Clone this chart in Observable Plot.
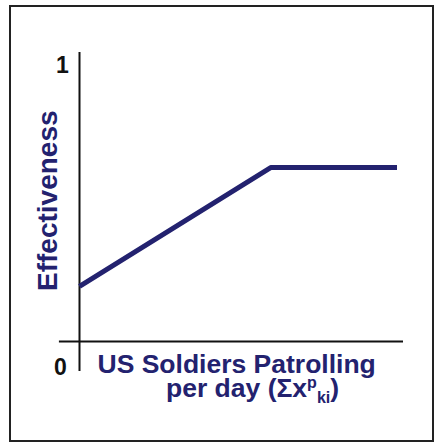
<!DOCTYPE html>
<html>
<head>
<meta charset="utf-8">
<script src="https://cdn.jsdelivr.net/npm/d3@7"></script>
<script src="https://cdn.jsdelivr.net/npm/@observablehq/plot@0.6"></script>
<style>
  html, body { margin: 0; padding: 0; background: #fff; }
  svg { display: block; }
</style>
</head>
<body>
<div id="chart"></div>
<script>
// Data
const patrol = [0, 59, 98];              // US soldiers patrolling per day (arbitrary units)
const effectiveness = [0.2, 0.63, 0.63]; // effectiveness (0..1)
const yTickLabels = ["0", "1"];
const yTickValues = [0, 1];
const xLabel1 = "US Soldiers Patrolling";
const yLabel = "Effectiveness";

const navy = "#23226f";
const font = "'Liberation Sans', Arial, sans-serif";

const data = patrol.map((x, i) => ({x, y: effectiveness[i]}));

const plot = Plot.plot({
  width: 436,
  height: 443,
  marginLeft: 79,
  marginRight: 33,
  marginTop: 65,
  marginBottom: 102,
  style: {fontFamily: font, background: "#fff"},
  x: {domain: [0, 100], axis: null},
  y: {domain: [0, 1], axis: null},
  marks: [
    Plot.ruleY([0], {x1: -6.2, x2: 100, stroke: "#111", strokeWidth: 2}),
    Plot.ruleX([0], {y1: -0.109, y2: 1.047, stroke: "#111", strokeWidth: 2}),
    Plot.line(data, {x: "x", y: "y", stroke: navy, strokeWidth: 5, strokeLinejoin: "miter", strokeLinecap: "butt"}),
    Plot.text([yTickLabels[1]], {x: 0, y: yTickValues[1], dx: -17, fontSize: 23, fontWeight: "bold", fill: "#111"}),
    Plot.text([yTickLabels[0]], {x: 0, y: yTickValues[0], dx: -19, dy: 26, fontSize: 23, fontWeight: "bold", fill: "#111"}),
    Plot.text([yLabel], {x: 0, y: 0.51, dx: -31, rotate: -90, fontSize: 28, fontWeight: "bold", fill: navy}),
    Plot.text([xLabel1], {x: 0, y: 0, dx: 18, dy: 23, textAnchor: "start", fontSize: 26.5, fontWeight: "bold", fill: navy})
  ]
});

const svg = d3.select(plot);
// outer border
svg.insert("rect", ":first-child")
  .attr("x", 10).attr("y", 6).attr("width", 423).attr("height", 435)
  .attr("fill", "none").attr("stroke", "#222").attr("stroke-width", 2);

// second line of x label with super/subscripts
const x0 = plot.scale("x").apply(0);
const y0 = plot.scale("y").apply(0);
const t = svg.append("text")
  .attr("x", x0 + 87).attr("y", y0 + 56)
  .attr("text-anchor", "start")
  .attr("fill", navy)
  .style("font-family", font)
  .style("font-weight", "bold")
  .style("font-size", "26.5px");
t.append("tspan").text("per day (Σx");
t.append("tspan").attr("font-size", "16px").attr("dy", -9).text("p");
t.append("tspan").attr("font-size", "16px").attr("dy", 15).text("ki");
t.append("tspan").attr("dy", -6).text(")");

document.getElementById("chart").appendChild(plot);
</script>
</body>
</html>
